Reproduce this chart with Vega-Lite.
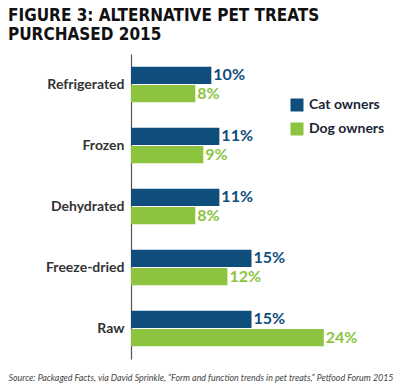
{
  "$schema": "https://vega.github.io/schema/vega-lite/v6.json",
  "autosize": "none",
  "width": 241,
  "height": 305,
  "padding": {"left": 131, "top": 54, "right": 28, "bottom": 32},
  "background": "white",
  "title": {
    "text": ["FIGURE 3: ALTERNATIVE PET TREATS", "PURCHASED 2015"],
    "anchor": "start",
    "frame": "group",
    "dx": -123,
    "offset": 10,
    "font": "DejaVu Sans Condensed",
    "fontSize": 17,
    "fontWeight": "bold",
    "lineHeight": 19,
    "color": "#111111"
  },
  "data": {
    "values": [
      {"treat": "Refrigerated", "owner": "Cat owners", "share": 0.10},
      {"treat": "Refrigerated", "owner": "Dog owners", "share": 0.08},
      {"treat": "Frozen", "owner": "Cat owners", "share": 0.11},
      {"treat": "Frozen", "owner": "Dog owners", "share": 0.09},
      {"treat": "Dehydrated", "owner": "Cat owners", "share": 0.11},
      {"treat": "Dehydrated", "owner": "Dog owners", "share": 0.08},
      {"treat": "Freeze-dried", "owner": "Cat owners", "share": 0.15},
      {"treat": "Freeze-dried", "owner": "Dog owners", "share": 0.12},
      {"treat": "Raw", "owner": "Cat owners", "share": 0.15},
      {"treat": "Raw", "owner": "Dog owners", "share": 0.24}
    ]
  },
  "encoding": {
    "y": {
      "field": "treat",
      "type": "nominal",
      "sort": ["Refrigerated", "Frozen", "Dehydrated", "Freeze-dried", "Raw"],
      "scale": {"paddingInner": 0.42, "paddingOuter": 0.21},
      "axis": {
        "title": null,
        "ticks": false,
        "labelPadding": 7,
        "labelFont": "Lato",
        "labelFontSize": 14,
        "labelFontWeight": "bold",
        "labelColor": "#333333",
        "domainColor": "#555555",
        "domainWidth": 1.2
      }
    },
    "yOffset": {
      "field": "owner",
      "type": "nominal",
      "sort": ["Cat owners", "Dog owners"],
      "scale": {"paddingInner": 0.06}
    },
    "x": {
      "field": "share",
      "type": "quantitative",
      "scale": {"domain": [0, 0.3]},
      "axis": {
        "title": "Source: Packaged Facts, via David Sprinkle, \u201cForm and function trends in pet treats,\u201d Petfood Forum 2015",
        "titleAnchor": "start",
        "titleX": -123,
        "titlePadding": 14,
        "titleFont": "Lato",
        "titleFontSize": 8.9,
        "titleFontStyle": "italic",
        "titleFontWeight": "normal",
        "titleColor": "#444444",
        "labels": false,
        "ticks": false,
        "domain": false,
        "grid": false
      }
    },
    "color": {
      "field": "owner",
      "type": "nominal",
      "sort": ["Cat owners", "Dog owners"],
      "scale": {"domain": ["Cat owners", "Dog owners"], "range": ["#0f4d7d", "#8cc43f"]},
      "legend": {
        "title": null,
        "orient": "none",
        "legendX": 159,
        "legendY": 44,
        "symbolType": "square",
        "symbolSize": 169,
        "symbolStrokeWidth": 0,
        "symbolOpacity": 1,
        "labelFont": "Lato",
        "labelFontSize": 14,
        "labelFontWeight": "bold",
        "labelColor": "#1a2633",
        "labelOffset": 5,
        "rowPadding": 10
      }
    }
  },
  "layer": [
    {"mark": {"type": "bar", "opacity": 1}},
    {
      "mark": {"type": "text", "align": "left", "baseline": "middle", "dx": 2, "font": "Lato", "fontSize": 16, "fontWeight": "bold"},
      "encoding": {
        "text": {"field": "share", "type": "quantitative", "format": ".0%"}
      }
    }
  ],
  "config": {"view": {"stroke": null}}
}
